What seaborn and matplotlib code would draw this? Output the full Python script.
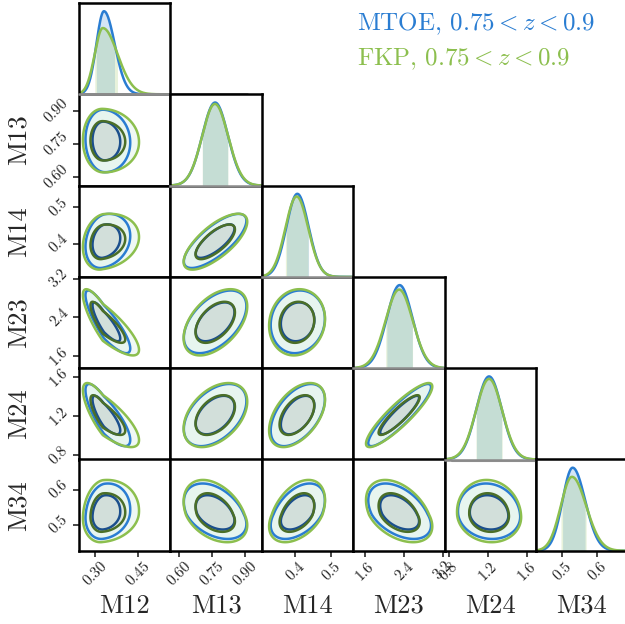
import numpy as np
import matplotlib
matplotlib.use('Agg')
import matplotlib.pyplot as plt
import seaborn as sns

# parameter names, plot ranges and ticks
params = ['M12', 'M13', 'M14', 'M23', 'M24', 'M34']
param_lims = [(0.245, 0.56), (0.56, 0.975), (0.308, 0.56), (1.35, 3.24), (0.755, 1.69), (0.425, 0.687)]
param_ticks = [[0.30, 0.45], [0.60, 0.75, 0.90], [0.4, 0.5], [1.6, 2.4, 3.2], [0.8, 1.2, 1.6], [0.5, 0.6]]
param_tick_labels = [['0.30', '0.45'], ['0.60', '0.75', '0.90'], ['0.4', '0.5'],
                     ['1.6', '2.4', '3.2'], ['0.8', '1.2', '1.6'], ['0.5', '0.6']]

# posterior summaries (mode, lower / upper width)
mtoe_mode = [0.331, 0.763, 0.406, 2.31, 1.21, 0.530]
mtoe_sig_lo = [0.026, 0.058, 0.030, 0.265, 0.130, 0.029]
mtoe_sig_hi = [0.037, 0.058, 0.031, 0.265, 0.130, 0.036]

fkp_mode = [0.327, 0.762, 0.404, 2.30, 1.21, 0.528]
fkp_sig_lo = [0.028, 0.058, 0.031, 0.28, 0.134, 0.032]
fkp_sig_hi = [0.051, 0.060, 0.032, 0.28, 0.134, 0.041]

# correlations for the lower panels, row by row: (M13,M12), (M14,M12), (M14,M13), ...
mtoe_rho = [-0.05, 0.20, 0.75, -0.85, 0.50, 0.10, -0.80, 0.45, 0.50, 0.90, 0.15, -0.40, 0.45, -0.45, -0.10]
fkp_rho = [-0.03, 0.18, 0.72, -0.83, 0.48, 0.10, -0.78, 0.42, 0.48, 0.89, 0.12, -0.38, 0.42, -0.42, -0.08]

legend_labels = ['MTOE, $0.75 < z < 0.9$', 'FKP, $0.75 < z < 0.9$']

# styles
line_col = ['#2a7dd2', '#8cbf4e']
dark_col = ['#1b4f8c', '#4b6f28']
inner_fill = '#c5d6cf'
outer_fill = '#e0f3eb'

sns.set_style('ticks')
plt.rcParams['font.family'] = 'serif'
plt.rcParams['font.serif'] = ['cmr10']
plt.rcParams['mathtext.fontset'] = 'cm'
plt.rcParams['axes.formatter.use_mathtext'] = True
plt.rcParams['axes.unicode_minus'] = False

W, H = 625, 624
x0, y0, cw, ch = 79, 3, 91.4, 91.3
n = len(params)


def cell(i, j):
    left = x0 + j * cw
    top = y0 + i * ch
    return [left / W, 1 - (top + ch) / H, cw / W, ch / H]


def to_u(x, m, sl, sh):
    return np.where(x < m, (x - m) / sl, (x - m) / sh)


def split_pdf(x, m, sl, sh):
    u = to_u(x, m, sl, sh)
    return 2.0 / (np.sqrt(2 * np.pi) * (sl + sh)) * np.exp(-0.5 * u ** 2)


sets = [(mtoe_mode, mtoe_sig_lo, mtoe_sig_hi, mtoe_rho),
        (fkp_mode, fkp_sig_lo, fkp_sig_hi, fkp_rho)]

fig = plt.figure(figsize=(W / 100, H / 100), dpi=100)
grids = [np.linspace(lo, hi, 400) for lo, hi in param_lims]


def style_axes(ax, i, j, bottom_color='black'):
    for s in ax.spines.values():
        s.set_visible(True)
        s.set_color('black')
        s.set_linewidth(1.8)
    ax.spines['bottom'].set_color(bottom_color)
    ax.tick_params(direction='out', length=4, width=1.2, labelsize=11, pad=2)
    if i == n - 1:
        ax.set_xticks(param_ticks[j])
        ax.set_xticklabels(param_tick_labels[j], rotation=45)
    else:
        ax.set_xticks([])
    if j == 0 and i > 0:
        ax.set_yticks(param_ticks[i])
        ax.set_yticklabels(param_tick_labels[i], rotation=45, va='center')
    else:
        ax.set_yticks([])


k = 0
for i in range(1, n):
    for j in range(i):
        ax = fig.add_axes(cell(i, j))
        gx, gy = np.meshgrid(grids[j], grids[i])
        for s, (mode, slo, shi, rho) in enumerate(sets):
            u = to_u(gx, mode[j], slo[j], shi[j])
            v = to_u(gy, mode[i], slo[i], shi[i])
            r = rho[k]
            q = (u ** 2 - 2 * r * u * v + v ** 2) / (1 - r ** 2)
            ax.contourf(gx, gy, q, levels=[0, 2.30, 5.99], colors=[inner_fill, outer_fill], alpha=0.5)
        for s, (mode, slo, shi, rho) in enumerate(sets):
            u = to_u(gx, mode[j], slo[j], shi[j])
            v = to_u(gy, mode[i], slo[i], shi[i])
            r = rho[k]
            q = (u ** 2 - 2 * r * u * v + v ** 2) / (1 - r ** 2)
            ax.contour(gx, gy, q, levels=[2.30, 5.99], colors=[dark_col[s], line_col[s]], linewidths=1.8)
        ax.set_xlim(param_lims[j])
        ax.set_ylim(param_lims[i])
        style_axes(ax, i, j)
        k += 1

# 1D marginals on the diagonal
for i in range(n):
    ax = fig.add_axes(cell(i, i))
    x = grids[i]
    peak = 0
    for s, (mode, slo, shi, rho) in enumerate(sets):
        d = split_pdf(x, mode[i], slo[i], shi[i])
        peak = max(peak, d.max())
        inside = (x >= mode[i] - slo[i]) & (x <= mode[i] + shi[i])
        ax.fill_between(x, 0, d, where=inside, color=line_col[s], alpha=0.2, lw=0)
    for s, (mode, slo, shi, rho) in enumerate(sets):
        d = split_pdf(x, mode[i], slo[i], shi[i])
        sns.lineplot(x=x, y=d, ax=ax, color=line_col[s], lw=1.8)
    ax.set_xlim(param_lims[i])
    ax.set_ylim(0, peak / 0.91)
    ax.set_xlabel('')
    ax.set_ylabel('')
    style_axes(ax, i, i, bottom_color='black' if i == n - 1 else '#8a8a8a')
    if i == 0:
        ax.plot([0, 1.84], [0, 0], transform=ax.transAxes, color='#8a8a8a', lw=2, clip_on=False)
    if i == 4:
        ax.plot([0.08, 1.54], [-0.015, -0.015], transform=ax.transAxes, color='#9a9a9a', lw=1.5, clip_on=False)

# axis labels
for j in range(n):
    fig.text((x0 + (j + 0.5) * cw) / W, 1 - 606 / H, params[j], fontsize=19, ha='center', va='center')
for i in range(1, n):
    fig.text(19 / W, 1 - (y0 + (i + 0.5) * ch) / H, params[i], fontsize=19, rotation=90,
             ha='center', va='center')

# legend
fig.text(357 / W, 1 - 24 / H, legend_labels[0], color=line_col[0], fontsize=18, ha='left', va='center')
fig.text(357 / W, 1 - 59 / H, legend_labels[1], color=line_col[1], fontsize=18, ha='left', va='center')

fig.savefig('out.png', dpi=100)
